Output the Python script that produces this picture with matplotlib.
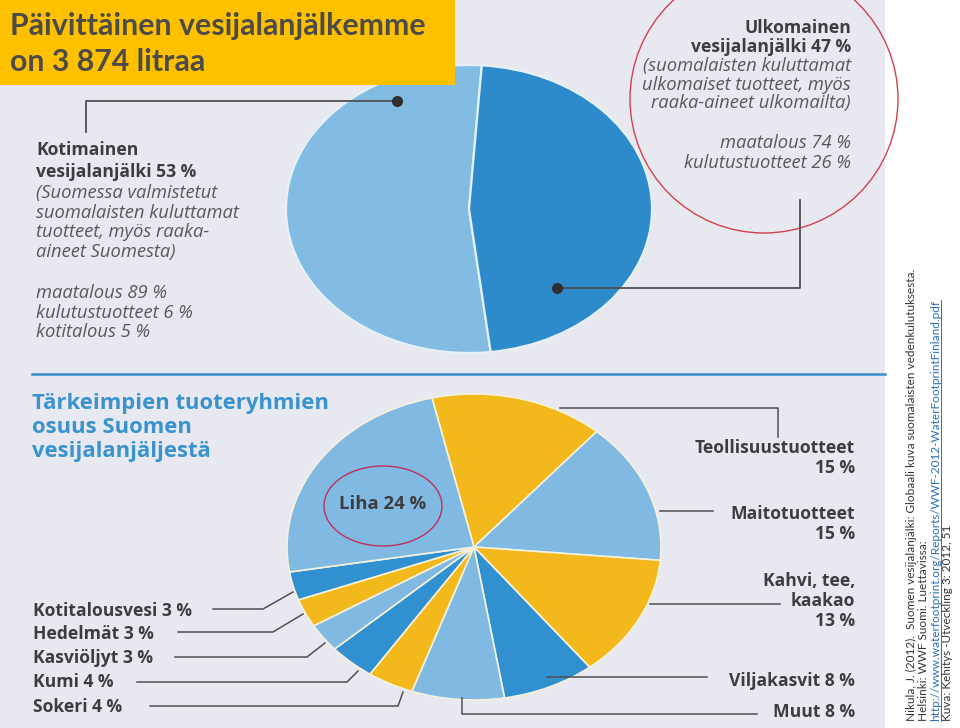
import numpy as np
import matplotlib
matplotlib.use('Agg')
import matplotlib.pyplot as plt
from matplotlib.patches import Rectangle, Ellipse, Circle

# Data
origin_labels = ['Kotimainen', 'Ulkomainen']
origin_shares = [53, 47]

product_groups = ['Teollisuustuotteet', 'Maitotuotteet', 'Kahvi, tee, kaakao',
                  'Viljakasvit', 'Muut', 'Sokeri', 'Kumi', 'Kasviöljyt',
                  'Hedelmät', 'Kotitalousvesi', 'Liha']
product_shares = [15, 15, 13, 8, 8, 4, 4, 3, 3, 3, 24]

domestic_split = ['maatalous 89 %', 'kulutustuotteet 6 %', 'kotitalous 5 %']
foreign_split = ['maatalous 74 %', 'kulutustuotteet 26 %']

source_lines = [
    'Nikula, J. (2012).  Suomen vesijalanjälki: Globaali kuva suomalaisten vedenkulutuksesta.',
    'Helsinki: WWF Suomi. Luettavissa:',
    'http://www.waterfootprint.org/Reports/WWF-2012-WaterFootprintFinland.pdf',
    'Kuva: Kehitys -Utveckling 3: 2012, 51',
]

# Colours
YEL = '#f3b81b'
LBL = '#80bae2'
DBL = '#3190cf'
product_colors = [YEL, LBL, YEL, DBL, LBL, YEL, DBL, LBL, YEL, DBL, LBL]
origin_colors = ['#82bce3', '#2e8bcb']
TXT = '#3d3d3f'
ITX = '#58585c'
LINE = '#505052'

W, H = 960, 728
fig = plt.figure(figsize=(W / 100, H / 100), dpi=100)
fig.patch.set_facecolor('white')


def px_axes(x0, y0, x1, y1, z):
    return fig.add_axes([x0 / W, 1 - y1 / H, (x1 - x0) / W, (y1 - y0) / H], zorder=z)


# page background
bg = fig.add_axes([0, 0, 1, 1], zorder=0)
bg.set_xlim(0, W)
bg.set_ylim(H, 0)
bg.axis('off')
bg.add_patch(Rectangle((0, 0), 885, H, color='#e8e9f0', lw=0))

# top pie (domestic / foreign)
ax1 = px_axes(286, 65, 652, 353, 1)
ax1.pie(origin_shares, colors=origin_colors, startangle=86, counterclock=True,
        wedgeprops=dict(edgecolor='#e6f0f7', linewidth=1.6))
ax1.set_aspect('auto')
ax1.set_xlim(-1, 1)
ax1.set_ylim(-1, 1)

# bottom pie (product groups)
ax2 = px_axes(287, 394, 661, 700, 1)
ax2.pie(product_shares, colors=product_colors, startangle=103, counterclock=False,
        wedgeprops=dict(edgecolor='#f4f1dc', linewidth=1.2))
ax2.set_aspect('auto')
ax2.set_xlim(-1, 1)
ax2.set_ylim(-1, 1)

# overlay for text and leader lines
ov = fig.add_axes([0, 0, 1, 1], zorder=3)
ov.set_xlim(0, W)
ov.set_ylim(H, 0)
ov.axis('off')
ov.patch.set_alpha(0)

# title box
ov.add_patch(Rectangle((0, 0), 455, 85, color='#ffc000', lw=0))
ov.text(10, 26, 'Päivittäinen vesijalanjälkemme', fontsize=21.8, fontweight='bold',
        color='#4b4b49', family='Lato', va='center')
ov.text(10, 62, 'on 3 874 litraa', fontsize=21.8, fontweight='bold',
        color='#4b4b49', family='Lato', va='center')

FONT = 'Open Sans'
BSZ = 12.6
ISZ = 13.2

# domestic text block
ov.text(36, 150, 'Kotimainen', fontsize=BSZ, fontweight='bold', color=TXT, family=FONT, va='center')
ov.text(36, 172, 'vesijalanjälki %d %%' % origin_shares[0], fontsize=BSZ, fontweight='bold',
        color=TXT, family=FONT, va='center')
for i, s in enumerate(['(Suomessa valmistetut', 'suomalaisten kuluttamat',
                       'tuotteet, myös raaka-', 'aineet Suomesta)']):
    ov.text(36, 193 + i * 19.7, s, fontsize=ISZ, style='italic', color=ITX, family=FONT, va='center')
for i, s in enumerate(domestic_split):
    ov.text(36, 293 + i * 19.5, s, fontsize=ISZ, style='italic', color=ITX, family=FONT, va='center')

# foreign text block
ov.text(851, 28, 'Ulkomainen', fontsize=BSZ, fontweight='bold', color=TXT, family=FONT,
        va='center', ha='right')
ov.text(851, 47, 'vesijalanjälki %d %%' % origin_shares[1], fontsize=BSZ, fontweight='bold',
        color=TXT, family=FONT, va='center', ha='right')
for i, s in enumerate(['(suomalaisten kuluttamat', 'ulkomaiset tuotteet, myös',
                       'raaka-aineet ulkomailta)']):
    ov.text(851, 66 + i * 18.7, s, fontsize=ISZ, style='italic', color=ITX, family=FONT,
            va='center', ha='right')
for i, s in enumerate(foreign_split):
    ov.text(851, 143 + i * 20, s, fontsize=ISZ, style='italic', color=ITX, family=FONT,
            va='center', ha='right')

# leader lines for the top pie
ov.plot([86, 86, 397], [132, 101, 101], color=LINE, lw=1.3)
ov.plot([397], [101], 'o', ms=7, color='#2f3033')
ov.plot([557, 800, 800], [288, 288, 200], color=LINE, lw=1.3)
ov.plot([557], [288], 'o', ms=7, color='#2f3033')

# red circle highlight
ov.add_patch(Circle((764, 99), 134, fill=False, ec='#d2404f', lw=1))

# divider line and section heading
ov.plot([32, 885], [374, 374], color='#3a8fca', lw=1.8)
for i, s in enumerate(['Tärkeimpien tuoteryhmien', 'osuus Suomen', 'vesijalanjäljestä']):
    ov.text(32, 403 + i * 24.3, s, fontsize=15.8, fontweight='bold', color='#3b93cd',
            family=FONT, va='center')

# Liha label inside pie
ov.text(383, 504, '%s %d %%' % (product_groups[10], product_shares[10]), fontsize=13.3,
        fontweight='bold', color=TXT, family=FONT, va='center', ha='center')
ov.add_patch(Ellipse((383, 506), 118, 80, fill=False, ec='#c0305a', lw=1))

# right-hand labels
right_labels = [
    (['Teollisuustuotteet', '15 %'], 448),
    (['Maitotuotteet', '15 %'], 514),
    (['Kahvi, tee,', 'kaakao', '13 %'], 581),
    (['Viljakasvit 8 %'], 681),
    (['Muut 8 %'], 712),
]
for lines, y0 in right_labels:
    for i, s in enumerate(lines):
        ov.text(855, y0 + i * 20, s, fontsize=BSZ, fontweight='bold', color=TXT,
                family=FONT, va='center', ha='right')

right_leaders = [
    ([560, 778, 778], [408, 408, 437]),
    ([660, 713], [511, 511]),
    ([650, 780], [604, 604]),
    ([547, 707], [677, 677]),
    ([462, 462, 757], [698, 714, 714]),
]
for xs, ys in right_leaders:
    ov.plot(xs, ys, color=LINE, lw=1.1)

# left-hand labels
left_names = ['Kotitalousvesi', 'Hedelmät', 'Kasviöljyt', 'Kumi', 'Sokeri']
left_y = [611, 634, 658, 682, 707]
for name, y in zip(left_names, left_y):
    share = product_shares[product_groups.index(name)]
    ov.text(33, y, '%s %d %%' % (name, share), fontsize=BSZ, fontweight='bold',
            color=TXT, family=FONT, va='center')

left_leaders = [
    ([213, 263, 293], [609, 609, 592]),
    ([178, 273, 303], [632, 632, 614]),
    ([175, 307, 325], [657, 657, 643]),
    ([137, 347, 358], [682, 682, 671]),
    ([150, 398, 403], [706, 706, 692]),
]
for xs, ys in left_leaders:
    ov.plot(xs, ys, color=LINE, lw=1.1)

# source text, rotated
CITE = 'Lato'
CSZ = 8.5
cite_x = [911.5, 923.5, 935.5, 947.5]
cite_col = ['#333333', '#333333', '#2a6fb8', '#333333']
cite_texts = []
for x, s, c in zip(cite_x, source_lines, cite_col):
    cite_texts.append(ov.text(x, 721, s, rotation=90, fontsize=CSZ, color=c, family=CITE,
                              ha='center', va='bottom'))

fig.canvas.draw()
bb = cite_texts[2].get_window_extent()
ov.plot([941, 941], [721, H - bb.y1], color='#2a6fb8', lw=0.7)

fig.savefig('out.png', dpi=100)
